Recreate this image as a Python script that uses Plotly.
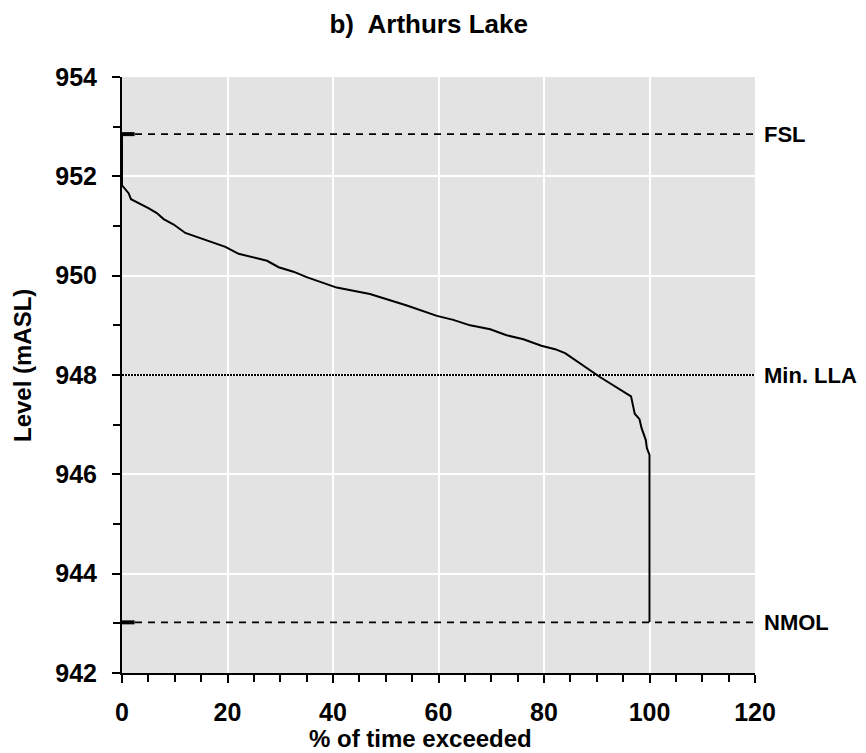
import plotly.graph_objects as go

# Duration curve data (% of time exceeded vs level, mASL)
pct_exceeded = [0, 0, 1.25, 1.7, 5.0, 6.6, 7.9, 9.8, 12.0, 15.2, 19.6, 22.1, 27.5, 29.7,
                32.5, 35.0, 37.6, 40.7, 47.0, 54.0, 59.7, 62.8, 66.0, 69.8, 72.9, 76.1,
                79.5, 82.1, 84.0, 88.4, 90.6, 96.5, 96.9, 97.2, 98.1, 98.5, 99.3, 99.5,
                100.0, 100.0]
level = [952.85, 951.82, 951.66, 951.54, 951.36, 951.26, 951.14, 951.03, 950.86, 950.74,
         950.58, 950.44, 950.30, 950.17, 950.08, 949.97, 949.88, 949.76, 949.63, 949.40,
         949.19, 949.11, 949.00, 948.92, 948.80, 948.72, 948.59, 948.52, 948.44, 948.12,
         947.96, 947.57, 947.40, 947.22, 947.11, 946.93, 946.69, 946.53, 946.39, 943.02]

ref_names = ["FSL", "Min. LLA", "NMOL"]
ref_levels = [952.85, 948.0, 943.02]
ref_x = [0, 120]

title_text = "b)  Arthurs Lake"
x_title = "% of time exceeded"
y_title = "Level (mASL)"

FONT = "Liberation Sans, Arial, sans-serif"
W, H = 866, 753
ML, MR, MT, MB = 122, 111, 77, 80

fig = go.Figure()

# reference lines
for name, lv in zip(ref_names, ref_levels):
    if name == "Min. LLA":
        fig.add_trace(go.Scatter(x=ref_x, y=[lv, lv], mode="lines",
                                 line=dict(color="black", width=2, dash="2px,1px"),
                                 hoverinfo="skip", showlegend=False))
    else:
        fig.add_trace(go.Scatter(x=ref_x, y=[lv, lv], mode="lines+markers",
                                 line=dict(color="black", width=1.6, dash="7px,6px"),
                                 marker=dict(symbol="line-ew-open", size=[18, 0], color="black",
                                             opacity=1, line=dict(color="black", width=4)),
                                 hoverinfo="skip", showlegend=False))

fig.add_trace(go.Scatter(x=pct_exceeded, y=level, mode="lines",
                         line=dict(color="black", width=2),
                         hoverinfo="skip", showlegend=False))

for name, lv in zip(ref_names, ref_levels):
    fig.add_annotation(x=1, xref="paper", y=lv, yref="y", text=name,
                       showarrow=False, xanchor="left", xshift=7,
                       font=dict(family=FONT, size=22, color="black", weight="bold"))

# axis titles as annotations (positioned like the reference)
fig.add_annotation(x=(420.5 - ML) / (W - ML - MR), xref="paper",
                   y=-(739 - (H - MB)) / (H - MT - MB), yref="paper",
                   text=x_title, showarrow=False, xanchor="center", yanchor="middle",
                   font=dict(family=FONT, size=24, color="black", weight="bold"))
fig.add_annotation(x=-(ML - 22) / (W - ML - MR), xref="paper",
                   y=((H - MB) - 366) / (H - MT - MB), yref="paper",
                   text=y_title, textangle=-90, showarrow=False,
                   xanchor="center", yanchor="middle",
                   font=dict(family=FONT, size=24, color="black", weight="bold"))

fig.update_layout(
    width=W, height=H,
    margin=dict(l=ML, r=MR, t=MT, b=MB),
    paper_bgcolor="white",
    plot_bgcolor="#e3e3e3",
    font=dict(family=FONT, color="black"),
    title=dict(text=title_text, x=428.7 / W, xanchor="center", xref="container", y=1 - 24 / H,
               yanchor="middle", font=dict(size=26, family=FONT, weight="bold")),
    showlegend=False,
)

fig.update_xaxes(
    range=[0, 120], dtick=20, tick0=0,
    showgrid=True, gridcolor="white", gridwidth=1.5,
    showline=True, linecolor="black", linewidth=2,
    ticks="outside", ticklen=8, tickwidth=2, tickcolor="black",
    minor=dict(dtick=5, ticks="outside", ticklen=7, tickwidth=2, tickcolor="black", showgrid=False),
    tickfont=dict(size=25, family=FONT, weight="bold"),
    ticklabelstandoff=8,
    zeroline=False,
)
fig.update_yaxes(
    range=[942, 954], dtick=2, tick0=942,
    showgrid=True, gridcolor="white", gridwidth=1.5,
    showline=True, linecolor="black", linewidth=2,
    ticks="outside", ticklen=8, tickwidth=2, tickcolor="black",
    minor=dict(dtick=1, ticks="outside", ticklen=7, tickwidth=2, tickcolor="black", showgrid=False),
    tickfont=dict(size=25, family=FONT, weight="bold"),
    ticklabelstandoff=10,
    zeroline=False,
)

fig.write_html("out.html")
